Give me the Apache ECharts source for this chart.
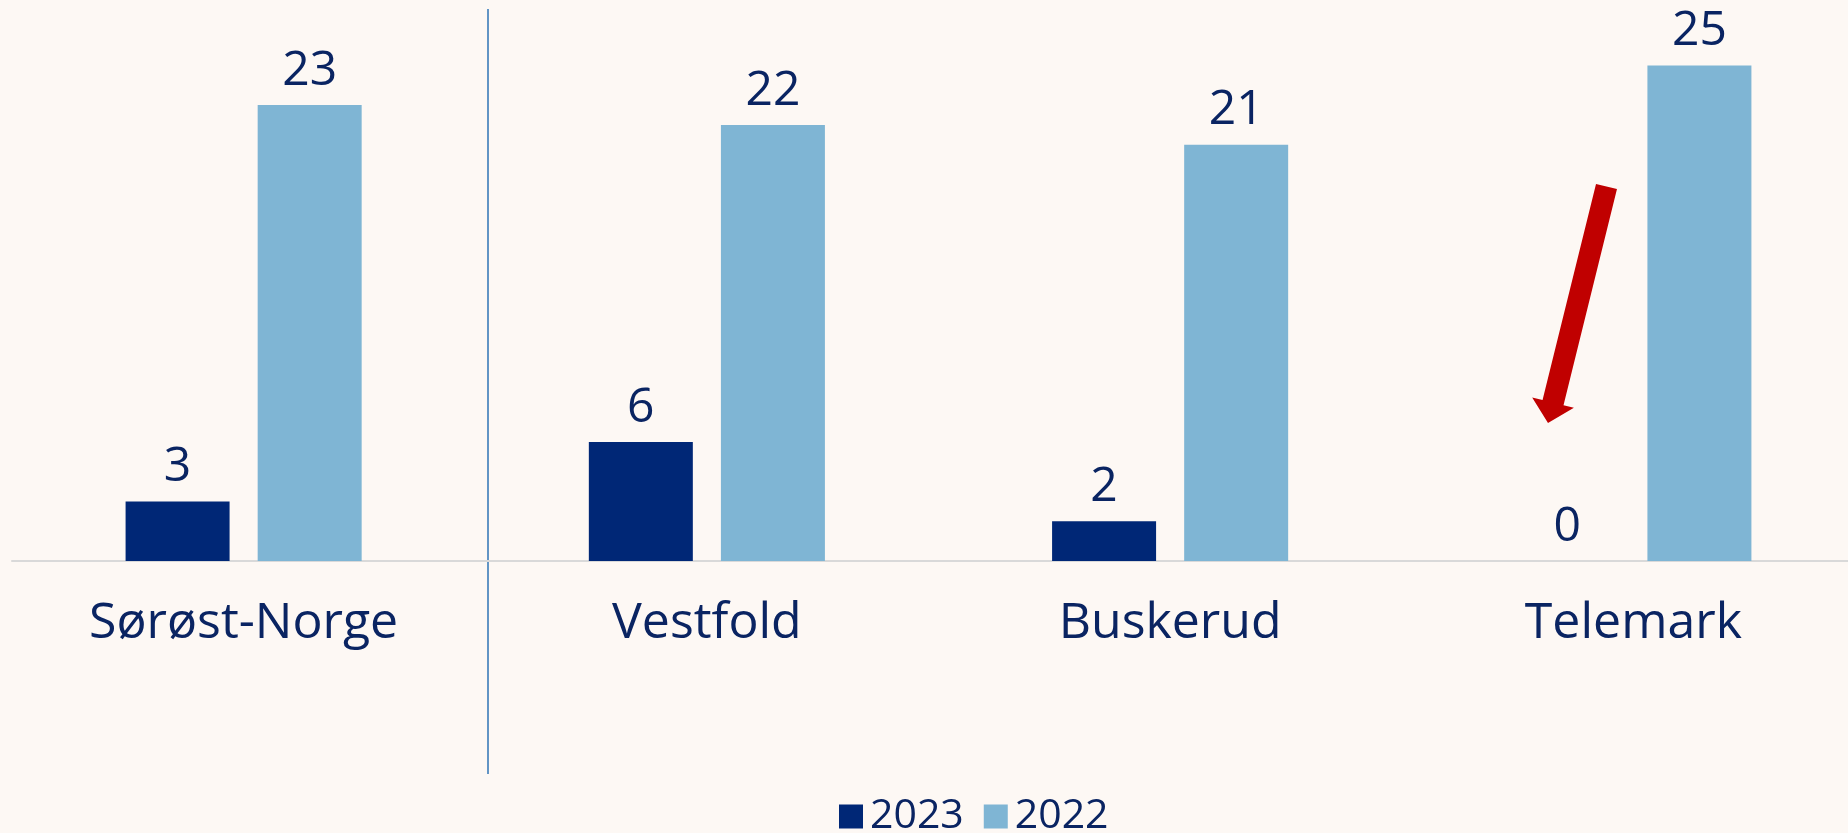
<!DOCTYPE html>
<html lang="no">
<head>
    <meta charset="UTF-8">
    <title>Sørøst-Norge</title>
    <script src="https://cdn.jsdelivr.net/npm/echarts@6/dist/echarts.min.js"></script>
    <style>
        html, body { margin: 0; padding: 0; background: #fdf8f4; }
        #chart { width: 1848px; height: 833px; }
    </style>
</head>
<body>
<div id="chart"></div>
<script>
    var categories = ['Sørøst-Norge', 'Vestfold', 'Buskerud', 'Telemark'];
    var years = ['2023', '2022'];
    var values2023 = [3, 6, 2, 0];
    var values2022 = [23, 22, 21, 25];

    var navy = '#002776';
    var lightBlue = '#7fb5d4';
    var textColor = '#0a2462';
    var font = 'Open Sans';

    // red arrow (annotation), tail -> tip
    function arrowPoints(tail, tip, halfShaft, halfHead, headLen) {
        var dx = tip[0] - tail[0], dy = tip[1] - tail[1];
        var len = Math.sqrt(dx * dx + dy * dy);
        var ux = dx / len, uy = dy / len;
        var nx = -uy, ny = ux;
        var bx = tip[0] - ux * headLen, by = tip[1] - uy * headLen;
        return [
            [tail[0] + nx * halfShaft, tail[1] + ny * halfShaft],
            [bx + nx * halfShaft, by + ny * halfShaft],
            [bx + nx * halfHead, by + ny * halfHead],
            tip,
            [bx - nx * halfHead, by - ny * halfHead],
            [bx - nx * halfShaft, by - ny * halfShaft],
            [tail[0] - nx * halfShaft, tail[1] - ny * halfShaft]
        ];
    }

    var labelStyle = {
        show: true,
        position: 'top',
        distance: 10,
        color: textColor,
        fontFamily: font,
        fontSize: 48
    };

    var myChart = echarts.init(document.getElementById('chart'));
    var option = {
        backgroundColor: '#fdf8f4',
        animation: false,
        textStyle: { fontFamily: font },
        grid: {
            left: 12,
            top: 6,
            width: 1853,
            height: 555,
            containLabel: false,
            outerBoundsMode: 'none'
        },
        legend: {
            data: years,
            left: 839,
            top: 796,
            padding: 0,
            itemWidth: 24,
            itemHeight: 24,
            itemGap: 20,
            icon: 'rect',
            textStyle: { color: textColor, fontSize: 41, fontFamily: font, padding: [0, 0, 0, 2] }
        },
        xAxis: {
            type: 'category',
            data: categories,
            axisLine: { lineStyle: { color: '#d9d9d9', width: 2 } },
            axisTick: { show: false },
            axisLabel: { color: textColor, fontSize: 50, fontFamily: font, margin: 38 }
        },
        yAxis: {
            type: 'value',
            min: 0,
            max: 28,
            show: false
        },
        series: [
            {
                name: '2023',
                type: 'bar',
                data: values2023,
                barWidth: 104,
                barGap: '27%',
                itemStyle: { color: navy },
                label: labelStyle
            },
            {
                name: '2022',
                type: 'bar',
                data: values2022,
                barWidth: 104,
                itemStyle: { color: lightBlue },
                label: labelStyle
            }
        ],
        graphic: [
            {
                type: 'line',
                shape: { x1: 488, y1: 9, x2: 488, y2: 774 },
                style: { stroke: '#2e75b6', lineWidth: 1.5 }
            },
            {
                type: 'polygon',
                shape: { points: arrowPoints([1606.5, 186.5], [1548, 423], 10.8, 21.5, 21) },
                style: { fill: '#c00000' }
            }
        ]
    };
    myChart.setOption(option);
    setTimeout(function () {
        window.onresize = function () {
            myChart.resize()
        }
    }, 200)
</script>
</body>
</html>
